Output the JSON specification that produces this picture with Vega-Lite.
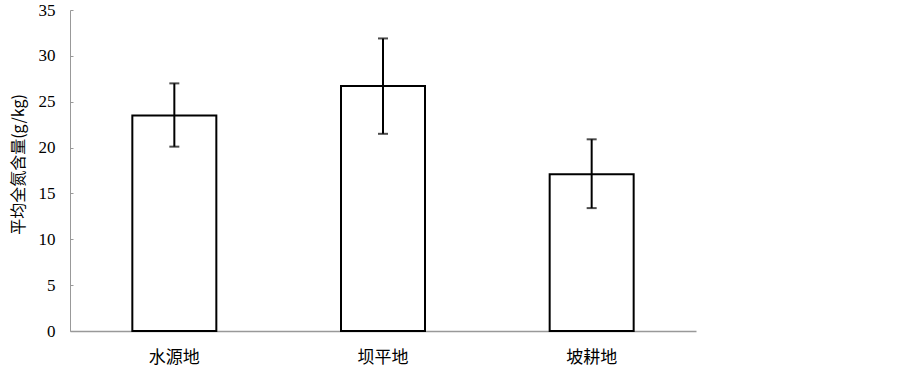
{
  "$schema": "https://vega.github.io/schema/vega-lite/v6.json",
  "width": 626,
  "height": 321,
  "autosize": "none",
  "padding": {"left": 70, "top": 10, "right": 207, "bottom": 41},
  "background": "white",
  "config": {"view": {"stroke": null}},
  "data": {"values": [
    {"site": "水源地", "mean": 23.5, "low": 20.1, "high": 27.0},
    {"site": "坝平地", "mean": 26.7, "low": 21.5, "high": 31.9},
    {"site": "坡耕地", "mean": 17.1, "low": 13.4, "high": 20.9}
  ]},
  "encoding": {
    "x": {
      "field": "site", "type": "nominal", "sort": null,
      "scale": {"paddingInner": 0, "paddingOuter": 0},
      "axis": {
        "title": null, "labelAngle": 0, "ticks": false, "domainColor": "#999999", "domainWidth": 1.5,
        "labelFont": "Noto Sans CJK SC", "labelFontSize": 17, "labelColor": "#000000",
        "labelPadding": 18
      }
    }
  },
  "layer": [
    {
      "mark": {"type": "bar", "size": 84, "fill": "white", "stroke": "black", "strokeWidth": 2},
      "encoding": {
        "y": {
          "field": "mean", "type": "quantitative",
          "scale": {"domain": [0, 35], "nice": false},
          "axis": {
            "title": "平均全氮含量(g/kg)", "values": [0, 5, 10, 15, 20, 25, 30, 35],
            "grid": false, "domainColor": "#999999", "tickColor": "#999999", "tickSize": -3,
            "labelFont": "Liberation Serif", "labelFontSize": 17, "labelColor": "#000000", "labelPadding": 18,
            "titleFont": "Noto Sans CJK SC", "titleFontWeight": "normal", "titleFontSize": 16, "titleColor": "#000000",
            "titleX": -52, "titleY": 154, "titleAlign": "center", "titleBaseline": "middle", "titleAngle": -90
          }
        }
      }
    },
    {
      "mark": {"type": "rule", "stroke": "black", "strokeWidth": 2},
      "encoding": {
        "y": {"field": "low", "type": "quantitative"},
        "y2": {"field": "high"}
      }
    },
    {
      "mark": {"type": "tick", "color": "black", "size": 10, "thickness": 2, "orient": "horizontal"},
      "encoding": {"y": {"field": "low", "type": "quantitative"}}
    },
    {
      "mark": {"type": "tick", "color": "black", "size": 10, "thickness": 2, "orient": "horizontal"},
      "encoding": {"y": {"field": "high", "type": "quantitative"}}
    }
  ]
}
